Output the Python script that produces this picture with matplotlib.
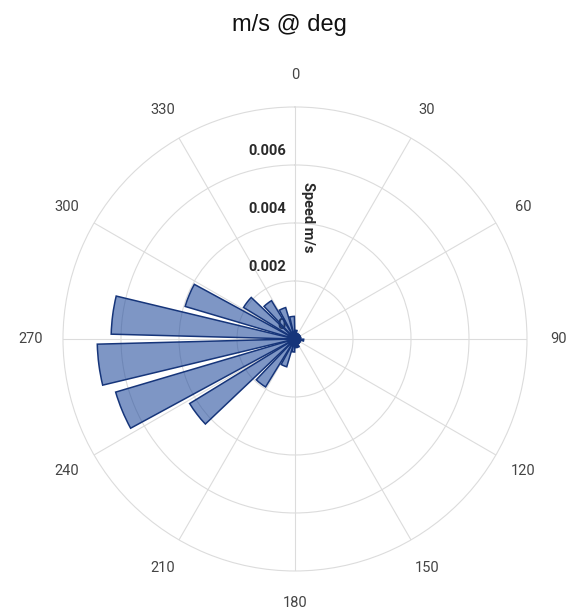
import numpy as np
import matplotlib.pyplot as plt
import matplotlib.transforms as mtransforms

# direction bins (deg, centre of each 15 deg sector) and mean speed per bin
directions = [7.5, 22.5, 37.5, 52.5, 67.5, 82.5, 97.5, 112.5,
              127.5, 142.5, 157.5, 172.5, 187.5, 202.5, 217.5, 232.5,
              247.5, 262.5, 277.5, 292.5, 307.5, 322.5, 337.5, 352.5]
speeds = [0.0003, 0.0002, 0.0002, 0.0002, 0.0002, 0.0002, 0.0003, 0.0002,
          0.0002, 0.0002, 0.0003, 0.0003, 0.00045, 0.0010, 0.00194, 0.00426,
          0.00645, 0.00682, 0.00634, 0.00395, 0.00208, 0.00155, 0.00113, 0.00078]
r_ticks = [0, 0.002, 0.004, 0.006]
r_tick_labels = ['0', '0.002', '0.004', '0.006']
angle_ticks = list(range(0, 360, 30))
r_max = 0.008

fig = plt.figure(figsize=(5.68, 6.11), dpi=100)
ax = fig.add_axes([0.1109, 0.0655, 0.8169, 0.7594], projection='polar')
ax.set_theta_zero_location('N')
ax.set_theta_direction(-1)

grid_col = '#dcdcdc'
ax.bar(np.deg2rad(directions), speeds, width=np.deg2rad(12), bottom=0,
       facecolor=(0.1, 0.27, 0.6, 0.56), edgecolor='#16357a',
       linewidth=1.1, zorder=3)

ax.set_ylim(0, r_max)
ax.set_yticks(r_ticks[1:])
ax.set_yticklabels([])
ax.set_xticks(np.deg2rad(angle_ticks))
ax.set_xticklabels([])
ax.grid(True, color=grid_col, linewidth=0.8)
ax.spines['polar'].set_color(grid_col)
ax.spines['polar'].set_linewidth(0.8)

# angle labels, centred a fixed distance outside the outer ring
for a in angle_ticks:
    th = np.deg2rad(a)
    tr = mtransforms.offset_copy(ax.transData, fig=fig, x=32 * np.sin(th),
                                 y=32 * np.cos(th), units='dots')
    ax.text(th, r_max, str(a), transform=tr, ha='center', va='center',
            fontsize=10.5, color='#444444', family='Roboto', clip_on=False)

# radial tick labels sit left of the north spoke, just above each ring
for r, lab in zip(r_ticks, r_tick_labels):
    tr = mtransforms.offset_copy(ax.transData, fig=fig, x=-9, y=14, units='dots')
    ax.text(0, r, lab, transform=tr, ha='right', va='center', fontsize=10.5,
            fontweight='bold', color='#2a2a2a', family='Roboto', zorder=2)

tr = mtransforms.offset_copy(ax.transData, fig=fig, x=13, y=0, units='dots')
ax.text(0, 0.0042, 'Speed m/s', transform=tr, rotation=-90, ha='center',
        va='center', fontsize=10.5, fontweight='bold', color='#2a2a2a',
        family='Roboto')

fig.text(289 / 568, 1 - 25 / 611, 'm/s @ deg', ha='center', va='center',
         fontsize=17, family='Liberation Sans', color='#111111')

fig.savefig('out.png', dpi=100)
